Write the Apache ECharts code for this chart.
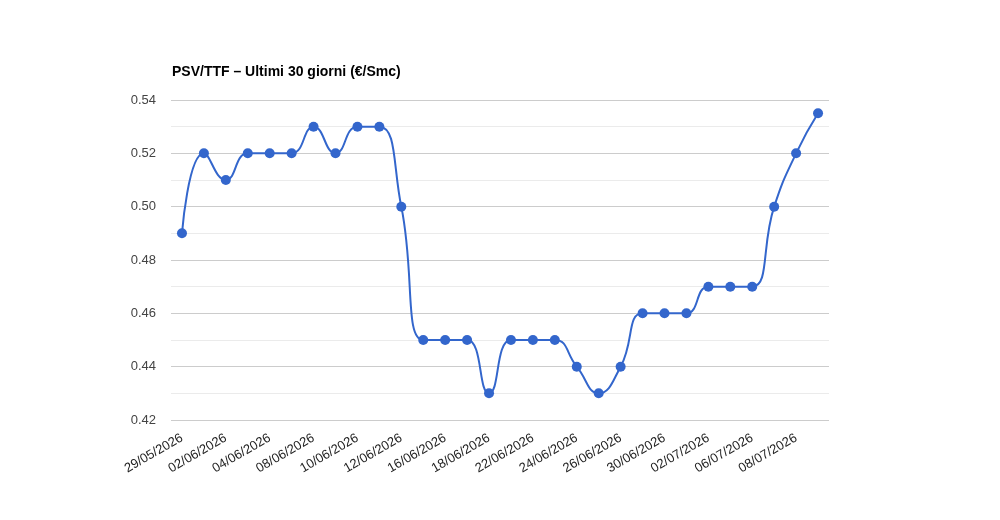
<!DOCTYPE html>
<html><head><meta charset="utf-8">
<script src="https://cdn.jsdelivr.net/npm/echarts@6/dist/echarts.min.js"></script>
<style>html,body{margin:0;padding:0;background:#fff}#c{width:1000px;height:520px}</style>
</head><body><div id="c"></div>
<script>
const categories = ["29/05/2026","01/06/2026","02/06/2026","03/06/2026","04/06/2026","05/06/2026","08/06/2026","09/06/2026","10/06/2026","11/06/2026","12/06/2026","15/06/2026","16/06/2026","17/06/2026","18/06/2026","19/06/2026","22/06/2026","23/06/2026","24/06/2026","25/06/2026","26/06/2026","29/06/2026","30/06/2026","01/07/2026","02/07/2026","03/07/2026","06/07/2026","07/07/2026","08/07/2026","09/07/2026"];
const values = [0.49,0.52,0.51,0.52,0.52,0.52,0.53,0.52,0.53,0.53,0.50,0.45,0.45,0.45,0.43,0.45,0.45,0.45,0.44,0.43,0.44,0.46,0.46,0.46,0.47,0.47,0.47,0.50,0.52,0.535];
const yTicks = [0.42,0.44,0.46,0.48,0.50,0.52,0.54];
const titleText = "PSV/TTF – Ultimi 30 giorni (€/Smc)";

const chart = echarts.init(document.getElementById('c'), null, {renderer:'canvas'});
chart.setOption({
  animation:false,
  title:{text:titleText,left:167,top:60,textStyle:{fontFamily:'Arial, Liberation Sans',fontSize:14,fontWeight:'bold',color:'#000'}},
  grid:{left:171,right:171,top:100,bottom:100,containLabel:false},
  xAxis:{type:'category',data:categories,boundaryGap:true,
    axisLine:{show:false},axisTick:{show:false},
    axisLabel:{interval:1,rotate:30,margin:17,fontFamily:'Arial, Liberation Sans',fontSize:13,color:'#222'}},
  yAxis:{type:'value',min:yTicks[0],max:yTicks[yTicks.length-1],interval:0.02,
    axisLine:{show:false},axisTick:{show:false},
    axisLabel:{margin:15,fontFamily:'Arial, Liberation Sans',fontSize:13,color:'#444',formatter:v=>v.toFixed(2)},
    splitLine:{lineStyle:{color:'#cccccc',width:1}},
    minorTick:{show:false,splitNumber:2},
    minorSplitLine:{show:true,lineStyle:{color:'#ebebeb',width:1}}},
  series:[{type:'line',data:values,smooth:0.5,symbol:'circle',symbolSize:10,
    lineStyle:{color:'#3366cc',width:2},itemStyle:{color:'#3366cc'}}]
});
</script></body></html>
